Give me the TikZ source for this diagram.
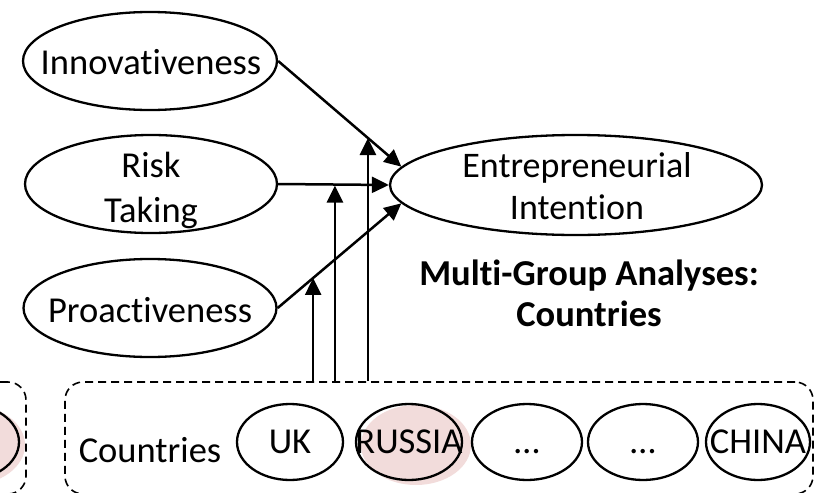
\documentclass[tikz,border=0pt]{standalone}
\usepackage{fontspec}
\setmainfont[Ligatures=NoCommon]{Carlito}
\usetikzlibrary{shapes.geometric,arrows.meta}
\definecolor{rosefill}{RGB}{242,220,219}
\tikzset{
  construct/.style={ellipse,draw,line width=2.3pt,inner sep=0pt},
  txt/.style={inner sep=0pt,align=center,font=\fontsize{36.5}{45}\selectfont},
  group/.style={ellipse,draw,line width=2.3pt,inner sep=0pt,
    minimum width=106pt,minimum height=76pt,font=\fontsize{36.5}{40}\selectfont},
  glow/.style={ellipse,fill=rosefill,draw=none,minimum width=110pt,minimum height=80pt},
  path/.style={line width=2.5pt,-{Triangle[length=17pt,width=16pt]}},
  framebox/.style={draw,dashed,dash pattern=on 8pt off 5pt,line width=1.6pt,rounded corners=18pt}
}
\begin{document}
\begin{tikzpicture}[x=1pt,y=-1pt]
\useasboundingbox (0,0) rectangle (815,493);

% predictors and outcome
\node[construct,minimum width=254pt,minimum height=98pt] (inn) at (150,61) {};
\node[txt] (inntxt) at (151,62) {Innovativeness};
\node[construct,minimum width=252pt,minimum height=98pt] (risk) at (151,184) {};
\node[txt] (risktxt) at (151,190) {Risk\\Taking};
\node[construct,minimum width=253pt,minimum height=98pt] (pro) at (150,308) {};
\node[txt] (protxt) at (150,310) {Proactiveness};
\node[construct,minimum width=372pt,minimum height=100pt] (ei) at (576,185) {};
\node[txt,font=\fontsize{36}{42}\selectfont] (eitxt) at (577,186) {Entrepreneurial\\Intention};

\node[txt,font=\fontsize{36.5}{41}\selectfont\bfseries] (mga) at (589,293) {Multi-Group Analyses:\\Countries};

% direct paths
\draw[path] (inn.east) -- coordinate[pos=0.729] (m3) (ei.174);
\draw[path] (risk.east) -- coordinate[pos=0.513] (m2) (ei.180);
\draw[path] (pro.east) -- coordinate[pos=0.287] (m1) (ei.186);

% grouping frames
\node[framebox,minimum width=748pt,minimum height=112pt] (cbox) at (439,438) {};
\node[framebox,minimum width=80pt,minimum height=112pt] (lbox) at (-14,438) {};

% moderating arrows
\draw[path] (m1 |- cbox.north) -- (m1);
\draw[path] (m2 |- cbox.north) -- ([yshift=-1pt]m2);
\draw[path] (m3 |- cbox.north) -- (m3);

% country groups
\node[txt] (clabel) at (150,450) {Countries};
\node[group] (uk) at (290,442) {\makebox[0pt]{UK}};
\node[glow] (rug) at (416,445) {};
\node[group] (ru) at (409,442) {\makebox[0pt]{RUSSIA}};
\node[group,minimum width=110pt] (d1) at (527,442) {\makebox[0pt]{\vphantom{UK}\dots}};
\node[group,minimum width=110pt] (d2) at (643,442) {\makebox[0pt]{\vphantom{UK}\dots}};
\node[group,minimum width=104pt] (cn) at (758,442) {\makebox[0pt]{CHINA}};

% partly shown group on the left
\node[glow] (lg) at (-30,445) {};
\node[group] (lo) at (-34,442) {};
\end{tikzpicture}
\end{document}
